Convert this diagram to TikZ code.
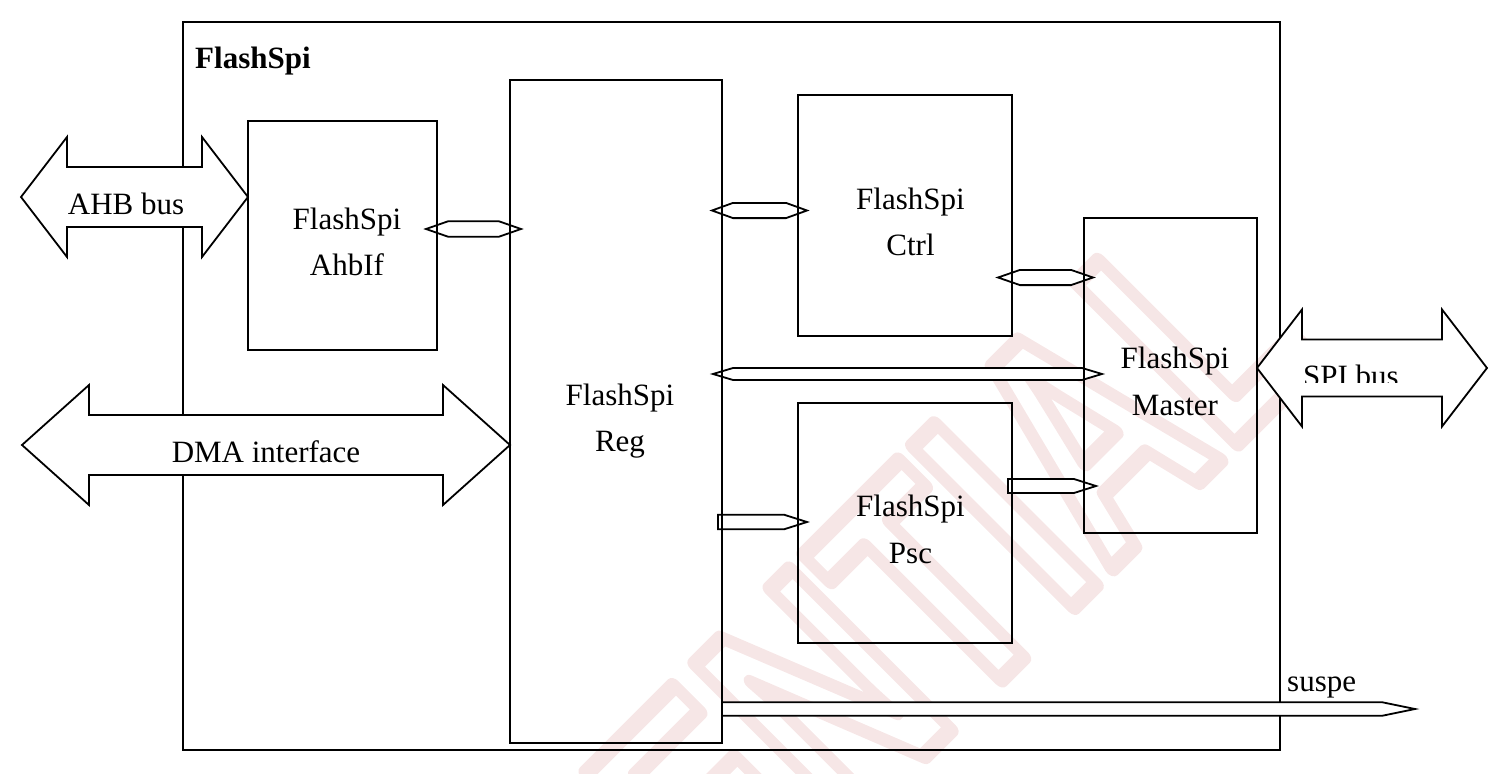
\documentclass[tikz,border=0pt]{standalone}
\usepackage{fontspec}
\setmainfont{Liberation Serif}
\newfontfamily\wmfont{Liberation Sans}
\usetikzlibrary{calc}
\definecolor{wmpink}{RGB}{246,230,230}
\pgfdeclarelayer{bg}
\pgfdeclarelayer{arrows}
\pgfsetlayers{bg,arrows,main}
\tikzset{
  blk/.style={draw, line width=1.8pt, inner sep=0pt, outer sep=0pt},
  lbl/.style={anchor=base, inner sep=0pt, font=\fontsize{31}{46.5}\selectfont},
  txt/.style={inner sep=0pt, font=\fontsize{31}{37}\selectfont},
  arr/.style={draw, fill=white, line width=1.8pt, line join=miter},
}
% hexagonal two-way connector: left tip, right tip, half height, head length
\newcommand\hexarr[4]{%
  \draw[arr] (#1) -- ($(#1)+(#4,-#3)$) -- ($(#2)+(-#4,-#3)$) -- (#2)
     -- ($(#2)+(-#4,#3)$) -- ($(#1)+(#4,#3)$) -- cycle;}
% one-way connector: flat start, tip, half height, head length
\newcommand\onearr[4]{%
  \draw[arr] ($(#1)+(0,-#3)$) -- ($(#2)+(-#4,-#3)$) -- (#2)
     -- ($(#2)+(-#4,#3)$) -- ($(#1)+(0,#3)$) -- cycle;}
% big two-way bus arrow: left tip, right tip, shaft half, head half, head length
\newcommand\bigarr[5]{%
  \draw[arr] (#1) -- ($(#1)+(#5,-#4)$) -- ($(#1)+(#5,-#3)$) -- ($(#2)+(-#5,-#3)$)
     -- ($(#2)+(-#5,-#4)$) -- (#2) -- ($(#2)+(-#5,#4)$) -- ($(#2)+(-#5,#3)$)
     -- ($(#1)+(#5,#3)$) -- ($(#1)+(#5,#4)$) -- cycle;}
\begin{document}
\begin{tikzpicture}[x=1pt, y=-1pt]
\useasboundingbox (0,0) rectangle (1508,774);

% ---------- background: watermark and outer block ----------
\begin{pgfonlayer}{bg}
  \node[inner sep=0pt, text=wmpink, rotate=45, xscale=0.7, transform shape,
        font=\wmfont\bfseries\fontsize{330}{330}\selectfont] (wm) at (950,570)
    {\special{pdf:literal direct q 1 Tr 17 w 1 j}ENTIAL\special{pdf:literal direct Q}};
  \node[blk, minimum width=1097pt, minimum height=728pt] (top) at (731.5,386) {};
  \node[anchor=base west, inner sep=0pt, font=\fontsize{31}{37}\selectfont\bfseries] (topT) at (195,68) {FlashSpi};
\end{pgfonlayer}

% ---------- blocks ----------
\node[blk, minimum width=189pt, minimum height=229pt] (ahbif)  at (342.5,235.5) {};
\node[blk, minimum width=212pt, minimum height=663pt] (reg)    at (616,411.5) {};
\node[blk, minimum width=214pt, minimum height=241pt] (ctrl)   at (905,215.5) {};
\node[blk, minimum width=214pt, minimum height=240pt] (psc)    at (905,523) {};
\node[blk, minimum width=173pt, minimum height=315pt] (master) at (1170.5,375.5) {};

\node[lbl] (ahbifT)  at ($(ahbif.center)+(4.5,-6.5)$)  {\begin{tabular}[t]{@{}c@{}}FlashSpi\\AhbIf\end{tabular}};
\node[lbl] (regT)    at ($(reg.center)+(4,-6.5)$)      {\begin{tabular}[t]{@{}c@{}}FlashSpi\\Reg\end{tabular}};
\node[lbl] (ctrlT)   at ($(ctrl.center)+(5.5,-6.5)$)   {\begin{tabular}[t]{@{}c@{}}FlashSpi\\Ctrl\end{tabular}};
\node[lbl] (pscT)    at ($(psc.center)+(5.5,-6.5)$)    {\begin{tabular}[t]{@{}c@{}}FlashSpi\\Psc\end{tabular}};
\node[lbl] (masterT) at ($(master.center)+(4.5,-7)$)   {\begin{tabular}[t]{@{}c@{}}FlashSpi\\Master\end{tabular}};

% ---------- connectors ----------
\coordinate (ahbL) at (21,197);
\coordinate (dmaL) at (22,445);
\coordinate (spiR) at (1487,368);
\coordinate (susR) at (1415,709);
\begin{pgfonlayer}{arrows}
  \bigarr{ahbL}{ahbif.west |- ahbL}{30}{60}{46}
  \bigarr{dmaL}{reg.west |- dmaL}{30}{60}{67}
  \bigarr{master.east |- spiR}{spiR}{28.5}{58.5}{45}
  \coordinate (a1) at ($(ahbif.east |- 0,229)+(-11,0)$);
  \coordinate (a2) at ($(reg.west |- 0,229)+(11,0)$);
  \hexarr{a1}{a2}{7.7}{22}
  \coordinate (b1) at ($(reg.east |- 0,210.5)+(-10,0)$);
  \coordinate (b2) at ($(ctrl.west |- 0,210.5)+(9,0)$);
  \hexarr{b1}{b2}{7.6}{21}
  \coordinate (c1) at ($(ctrl.east |- 0,277.5)+(-14,0)$);
  \coordinate (c2) at ($(master.west |- 0,277.5)+(9,0)$);
  \hexarr{c1}{c2}{7.6}{22}
  \coordinate (d1) at ($(reg.east |- 0,374)+(-9,0)$);
  \coordinate (d2) at ($(master.west |- 0,374)+(18,0)$);
  \hexarr{d1}{d2}{6}{20}
  \coordinate (e1) at ($(reg.east |- 0,522)+(-4,0)$);
  \coordinate (e2) at ($(psc.west |- 0,522)+(9,0)$);
  \onearr{e1}{e2}{7.3}{23}
  \coordinate (f1) at ($(psc.east |- 0,486)+(-4,0)$);
  \coordinate (f2) at ($(master.west |- 0,486)+(12,0)$);
  \onearr{f1}{f2}{7}{22}
  \onearr{reg.east |- susR}{susR}{6.8}{33}
\end{pgfonlayer}

% ---------- connector labels ----------
\node[txt, anchor=base] (ahbT) at (126,214) {AHB bus};
\node[txt, anchor=base] (dmaT) at (266,462) {DMA interface};
\begin{scope}
  \clip (1300,330) rectangle (1440,382.5);
  \node[txt, anchor=base] (spiT) at (1351,386) {SPI bus};
\end{scope}
\node[txt, anchor=base west] (susT) at (1287,691) {suspe};
\end{tikzpicture}
\end{document}
